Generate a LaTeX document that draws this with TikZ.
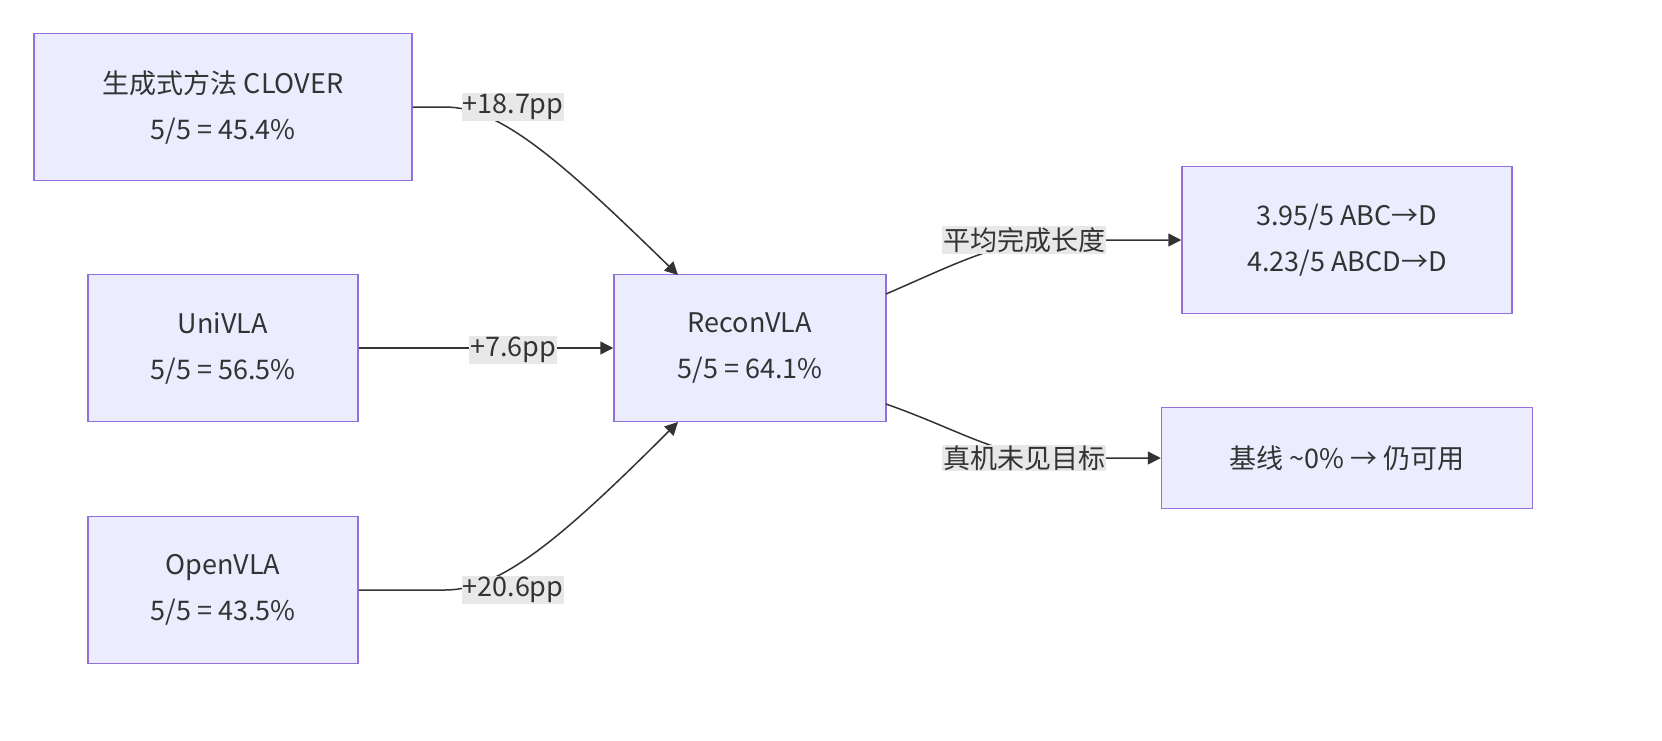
\documentclass[tikz,border=0pt]{standalone}
\usepackage{fontspec}
\setmainfont{Noto Sans CJK SC}
\usetikzlibrary{arrows.meta}
\definecolor{nfill}{HTML}{ECECFF}
\definecolor{nline}{HTML}{9370DB}
\definecolor{lfill}{HTML}{E8E8E8}
\definecolor{eline}{HTML}{333333}
\begin{document}
\begin{tikzpicture}[x=1pt,y=-1pt,
  box/.style={draw=nline,fill=nfill,line width=1.5pt,align=center,font=\fontsize{27}{46}\selectfont,text=eline,inner sep=0pt},
  lab/.style={fill=lfill,font=\fontsize{27}{30}\selectfont,text=eline,inner sep=1pt},
  edge/.style={draw=eline,line width=1.5pt,-{Triangle[length=13pt,width=13pt]}}]
\useasboundingbox (0,0) rectangle (1662,740);
\node[box,minimum width=378pt,minimum height=147pt] (clover) at (223,107) {生成式方法 CLOVER\\5/5 = 45.4\%};
\node[box,minimum width=270pt,minimum height=147pt] (uni) at (223,348) {UniVLA\\5/5 = 56.5\%};
\node[box,minimum width=270pt,minimum height=147pt] (open) at (223,590) {OpenVLA\\5/5 = 43.5\%};
\node[box,minimum width=272pt,minimum height=147pt] (recon) at (750,348) {ReconVLA\\5/5 = 64.1\%};
\node[box,minimum width=330pt,minimum height=147pt] (len) at (1347,240) {3.95/5 ABC→D\\4.23/5 ABCD→D};
\node[box,minimum width=371pt,minimum height=101pt] (real) at (1347,458) {基线 \textasciitilde0\% → 仍可用};
\coordinate (ct) at (678,275);
\coordinate (cb) at (678,422);
\coordinate (rt) at (886,294);
\coordinate (rb) at (886,404);
\draw[edge] (clover.east) -- (445,107) .. controls (500,107) and (560,160) .. (ct);
\draw[edge] (uni.east) -- (recon.west);
\draw[edge] (open.east) -- (445,590) .. controls (500,590) and (560,540) .. (cb);
\draw[edge] (rt) .. controls (960,262) and (1000,240) .. (1060,240) -- (len.west);
\draw[edge] (rb) .. controls (960,430) and (1000,458) .. (1060,458) -- (real.west);
\node[lab] (l1) at (513,107) {+18.7pp};
\node[lab] (l2) at (513,350) {+7.6pp};
\node[lab] (l3) at (513,590) {+20.6pp};
\node[lab] (l4) at (1024,240) {平均完成长度};
\node[lab] (l5) at (1024,458) {真机未见目标};
\end{tikzpicture}
\end{document}
